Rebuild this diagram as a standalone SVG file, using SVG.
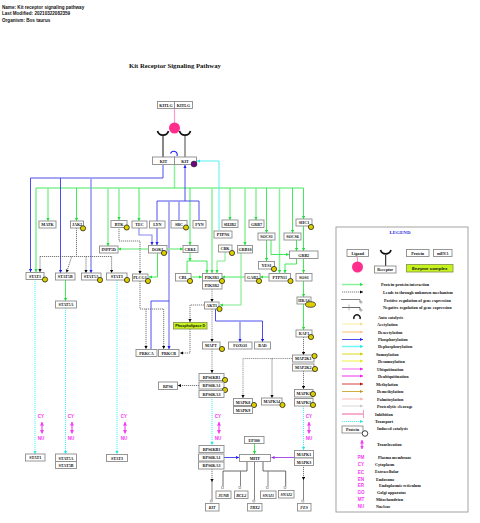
<svg xmlns="http://www.w3.org/2000/svg" width="480" height="523" viewBox="0 0 480 523">
<style>
text{font-family:"Liberation Serif","Times New Roman",serif;font-weight:bold;fill:#111}
.h{font-family:"Liberation Sans",Arial,sans-serif;font-size:4.6px}
.t{font-size:6.7px}
.l{font-size:4.1px;text-anchor:middle}
.i{font-size:4.1px;text-anchor:middle;font-style:italic}
.k{font-size:4.2px}
.m{font-family:"Liberation Sans",Arial,sans-serif;font-size:4.6px;fill:#f23cf2;text-anchor:middle}
rect{fill:#fff;stroke:#8c8c8c;stroke-width:.9}
.e{fill:#c6f21e;stroke:#8c9a50}
.p{fill:#dccf00;stroke:#111;stroke-width:.7}
polyline,line,path{fill:none}
.g{stroke:#2ee84a;stroke-width:.9;marker-end:url(#ag)}
.G{stroke:#8cf09a;stroke-width:1.5;marker-end:url(#ag)}
.gn{stroke:#2ee84a;stroke-width:.9}
.b{stroke:#3a3aee;stroke-width:.9;marker-end:url(#ab)}
.B{stroke:#a0a0f6;stroke-width:1.7;marker-end:url(#ab)}
.bn{stroke:#3a3aee;stroke-width:.9}
.Bn{stroke:#a0a0f6;stroke-width:1.7}
.c{stroke:#44eeee;stroke-width:.9;marker-end:url(#ac)}
.cd{stroke:#44eeee;stroke-width:.9;stroke-dasharray:1.2 .8;marker-end:url(#ac)}
.cdn{stroke:#44eeee;stroke-width:.9;stroke-dasharray:1.2 .8}
.d{stroke:#555;stroke-width:.8;stroke-dasharray:1.2 .8;marker-end:url(#ak)}
.dn{stroke:#555;stroke-width:.8;stroke-dasharray:1.2 .8}
.D{stroke:#999;stroke-width:1;stroke-dasharray:1.2 .7;marker-end:url(#ak)}
.Dn{stroke:#999;stroke-width:1;stroke-dasharray:1.2 .7}
.r{stroke:#777;stroke-width:.9}
.R{stroke:#444;stroke-width:.8}
.mg{stroke:#f23cf2;stroke-width:1.1;marker-start:url(#am);marker-end:url(#am)}
.o{stroke:#888;stroke-width:.6}
</style>
<defs>
<marker id="ag" markerUnits="userSpaceOnUse" markerWidth="4" markerHeight="4" refX="3" refY="1.6" orient="auto"><path d="M0 0L3 1.6L0 3.2Z" style="fill:#22dd3e"/></marker>
<marker id="ab" markerUnits="userSpaceOnUse" markerWidth="4" markerHeight="4" refX="3" refY="1.6" orient="auto"><path d="M0 0L3 1.6L0 3.2Z" style="fill:#2020ee"/></marker>
<marker id="ac" markerUnits="userSpaceOnUse" markerWidth="4" markerHeight="4" refX="3" refY="1.6" orient="auto"><path d="M0 0L3 1.6L0 3.2Z" style="fill:#22e8e8"/></marker>
<marker id="ak" markerUnits="userSpaceOnUse" markerWidth="4" markerHeight="4" refX="3" refY="1.6" orient="auto"><path d="M0 0L3 1.6L0 3.2Z" style="fill:#000"/></marker>
<marker id="am" markerUnits="userSpaceOnUse" markerWidth="5" markerHeight="5" refX="3.5" refY="2" orient="auto-start-reverse"><path d="M0 0L3.5 2L0 4Z" style="fill:#f23cf2"/></marker>
<marker id="ap" markerUnits="userSpaceOnUse" markerWidth="4" markerHeight="4" refX="3" refY="1.6" orient="auto"><path d="M0 0L3 1.6L0 3.2Z" style="fill:#8a2be2"/></marker>
<marker id="l1" markerUnits="userSpaceOnUse" markerWidth="4" markerHeight="4" refX="3" refY="1.6" orient="auto"><path d="M0 0L3 1.6L0 3.2Z" style="fill:#f5e080"/></marker>
<marker id="l2" markerUnits="userSpaceOnUse" markerWidth="4" markerHeight="4" refX="3" refY="1.6" orient="auto"><path d="M0 0L3 1.6L0 3.2Z" style="fill:#ffc890"/></marker>
<marker id="l3" markerUnits="userSpaceOnUse" markerWidth="4" markerHeight="4" refX="3" refY="1.6" orient="auto"><path d="M0 0L3 1.6L0 3.2Z" style="fill:#cccc10"/></marker>
<marker id="l4" markerUnits="userSpaceOnUse" markerWidth="4" markerHeight="4" refX="3" refY="1.6" orient="auto"><path d="M0 0L3 1.6L0 3.2Z" style="fill:#e8e820"/></marker>
<marker id="l5" markerUnits="userSpaceOnUse" markerWidth="4" markerHeight="4" refX="3" refY="1.6" orient="auto"><path d="M0 0L3 1.6L0 3.2Z" style="fill:#ee20ee"/></marker>
<marker id="l6" markerUnits="userSpaceOnUse" markerWidth="4" markerHeight="4" refX="3" refY="1.6" orient="auto"><path d="M0 0L3 1.6L0 3.2Z" style="fill:#c01010"/></marker>
<marker id="l7" markerUnits="userSpaceOnUse" markerWidth="4" markerHeight="4" refX="3" refY="1.6" orient="auto"><path d="M0 0L3 1.6L0 3.2Z" style="fill:#c09a10"/></marker>
<marker id="l8" markerUnits="userSpaceOnUse" markerWidth="4" markerHeight="4" refX="3" refY="1.6" orient="auto"><path d="M0 0L3 1.6L0 3.2Z" style="fill:#ffb0b0"/></marker>
<marker id="l9" markerUnits="userSpaceOnUse" markerWidth="4" markerHeight="4" refX="3" refY="1.6" orient="auto"><path d="M0 0L3 1.6L0 3.2Z" style="fill:#c8c8c8"/></marker>
</defs>

<text class="h" x="2" y="9">Name: Kit receptor signaling pathway</text>
<text class="h" x="2" y="15">Last Modified: 20210322082359</text>
<text class="h" x="2" y="22">Organism: Bos taurus</text>
<text class="t" x="129" y="68">Kit Receptor Signaling Pathway</text>

<g id="connectors">
<line x1="174.5" y1="108" x2="174.5" y2="124" style="stroke:#ff9ac8;stroke-width:1.2"/>
<line x1="163" y1="136" x2="163" y2="157" style="stroke:#111;stroke-width:1"/>
<line x1="185" y1="136" x2="185" y2="157" style="stroke:#666;stroke-width:1.2"/>
<path d="M170.5 153.5A3.3 3.3 0 1 1 177 156" style="stroke:#2020ee;stroke-width:1.1"/>
<polyline class="gn" style="stroke:#8cf09a;stroke-width:1.5" points="174.5,164.5 174.5,188"/>
<polyline class="gn" points="36,188 303.5,188"/>
<polyline class="g" points="36,188 36,272"/>
<polyline class="G" points="48,188 48,221"/>
<polyline class="g" points="76.5,188 76.5,221"/>
<polyline class="G" points="108,188 108,246"/>
<polyline class="G" points="119,188 119,220"/>
<polyline class="g" points="139,188 139,221"/>
<polyline class="g" points="190,188 190,245"/>
<polyline class="G" points="212,188 212,273"/>
<polyline class="g" points="230,188 230,220"/>
<polyline class="G" points="245,188 245,245"/>
<polyline class="G" points="256,188 256,220"/>
<polyline class="g" points="266.5,188 266.5,233"/>
<polyline class="G" points="279.5,188 279.5,273"/>
<polyline class="g" points="292.5,188 292.5,233"/>
<polyline class="g" points="303.5,188 303.5,219"/>
<polyline class="c" points="219,230 219,161 197,161"/>
<polyline class="bn" points="163,164.5 163,178 30.5,178"/>
<polyline class="b" points="30.5,178 30.5,272"/>
<polyline class="b" points="60.5,178 60.5,273"/>
<polyline class="B" points="91,178 91,273"/>
<polyline class="b" points="185,201 185,165"/>
<polyline class="bn" points="157,201 199,201"/>
<polyline class="b" points="157,201 157,245"/>
<polyline class="B" points="169,201 169,349"/>
<polyline class="Bn" points="179,201 179,220"/>
<polyline class="bn" points="199,201 199,220"/>
<polyline class="b" style="stroke:#8888f2;stroke-width:1.1" points="139,228 139,235 152,235 152,245"/>
<polyline class="bn" points="151,349 151,301 169,301"/>
<polyline class="G" points="148,249 118,249"/>
<polyline class="G" points="167,249 183,249"/>
<polyline class="g" points="157.5,253 157.5,277 149,277"/>
<polyline class="d" points="119,227 119,241 140,241 140,274"/>
<polyline class="dn" points="76.5,228 76.5,256.5"/>
<polyline class="dn" points="40,256.5 111.6,256.5"/>
<polyline class="d" points="40,256.5 40,272"/>
<polyline class="d" points="71.7,256.5 66.5,272.5"/>
<polyline class="d" points="86,256.5 86,273"/>
<polyline class="d" points="111.6,256.5 111.6,273"/>
<polyline class="g" points="65.5,280 65.5,301"/>
<polyline class="cd" points="35,279 35,454"/>
<polyline class="cd" points="65.5,308 65.5,454"/>
<polyline class="cd" points="117,280 117,454"/>
<polyline class="dn" points="140,281 140,309 163.7,309"/>
<polyline class="d" points="146,309 146,349"/>
<polyline class="d" points="163.7,309 163.7,349"/>
<polyline class="g" points="190,253 190,261"/>
<polyline class="gn" points="187,273 187,261 207,261"/>
<polyline class="g" points="207,261 207,273"/>
<polyline class="g" style="stroke:#7eec8e;stroke-width:1" points="225,252 225,261 217,261 217,273"/>
<polyline class="g" points="191,277 202,277"/>
<polyline class="g" points="245,277 222,277"/>
<polyline class="g" points="269,277 260,277"/>
<polyline class="g" style="stroke:#7eec8e;stroke-width:1.1" points="241,253 241,305 220,305"/>
<polyline class="g" points="266.5,240 266.5,261"/>
<polyline class="g" points="271,240 271,254.5 289,254.5"/>
<polyline class="g" points="296.5,240 296.5,251"/>
<polyline class="g" points="303.5,226 303.5,251"/>
<polyline class="g" points="296.5,258 296.5,264 285,264 285,273"/>
<polyline class="g" points="303.5,258 303.5,273"/>
<polyline class="g" points="303.5,281 303.5,297"/>
<polyline class="g" points="303.5,304 303.5,330"/>
<polyline class="D" points="212,289 212,302"/>
<polyline class="d" points="204,305 190,305 190,322"/>
<polyline class="d" points="190,329 190,353 180,353"/>
<polyline class="bn" points="215.5,309 215.5,321 262.5,321"/>
<polyline class="B" points="240,321 240,342"/>
<polyline class="b" points="262.5,321 262.5,342"/>
<polyline class="D" points="212,309 212,342"/>
<polyline class="D" points="212,349 212,373"/>
<polyline class="d" points="199,385.5 178,385.5"/>
<polyline class="d" points="303.5,337 303.5,355"/>
<polyline class="d" points="303.5,371 303.5,389"/>
<polyline class="Dn" points="292,358.5 243,358.5"/>
<polyline class="D" points="243,358.5 243,398"/>
<polyline class="d" points="272,358.5 272,398"/>
<polyline class="cd" style="stroke-width:1" points="212,397 212,445"/>
<polyline class="cd" points="303.5,406 303.5,450"/>
<polyline class="mg" points="42,422 42,433.5"/>
<polyline class="mg" points="72,422 72,433.5"/>
<polyline class="mg" points="125,422 125,433.5"/>
<polyline class="mg" points="219,422 219,433.5"/>
<polyline class="mg" points="309,422 309,433.5"/>
<polyline class="g" points="254.5,443 254.5,454"/>
<polyline class="b" points="224,457.5 239,457.5"/>
<polyline style="stroke:#a03ce8;stroke-width:.9;marker-end:url(#ap)" points="294,457.5 271.5,457.5"/>
<polyline class="d" points="212,469 212,482"/>
<polyline class="r" points="212,482 212,500"/>
<polyline class="d" points="303.5,465 303.5,480"/>
<polyline class="r" points="303.5,480 303.5,500"/>
<polyline class="R" points="247,461 247,471 223,471 223,486"/>
<polyline class="r" points="240.5,471 240.5,486"/>
<polyline class="r" points="254.5,461 254.5,500"/>
<polyline class="R" points="263,461 263,471 285.7,471 285.7,486"/>
<polyline class="r" points="268,471 268,486"/>
<path class="o" d="M221.5 488.5h2v-2h-2zM238.8 488.5h2v-2h-2zM266.3 488.5h2v-2h-2zM284 488.5h2v-2h-2zM210.3 502h2v-2h-2zM252.8 502h2v-2h-2zM301.8 502h2v-2h-2z"/>
</g>

<g id="KITLG"><rect x="157.5" y="101.5" width="17" height="7"/><text class="l" x="166" y="106.5">KITLG</text><rect x="174.5" y="101.5" width="18" height="7"/><text class="l" x="183.5" y="106.5">KITLG</text></g>
<g id="ligand"><circle cx="174.5" cy="128" r="5.5" style="fill:#ff2d8c"/></g>
<g id="receptors"><path d="M157.5 131A5.7 5.7 0 0 0 168.5 131" style="stroke:#111;stroke-width:1.7"/><path d="M179.5 131A5.7 5.7 0 0 0 190.5 131" style="stroke:#111;stroke-width:1.7"/></g>
<g id="KIT"><rect x="152.5" y="157" width="22" height="7.5"/><text class="l" x="163.5" y="162.5">KIT</text><rect x="174.5" y="157" width="22" height="7.5"/><text class="l" x="185" y="162.5">KIT</text><circle cx="194" cy="164" r="3" style="fill:#6a0a78;stroke:#222;stroke-width:.5"/></g>

<g id="MATK"><rect x="39" y="221" width="17" height="7"/><text class="l" x="47.5" y="226">MATK</text></g>
<g id="JAK2"><rect x="70.5" y="221" width="13" height="7"/><text class="l" x="77" y="226">JAK2</text><circle class="p" cx="83" cy="228.3" r="2.6"/></g>
<g id="BTK"><rect x="111" y="220.5" width="16" height="7"/><text class="l" x="119" y="225.5">BTK</text><circle class="p" cx="126.7" cy="227.5" r="2.6"/></g>
<g id="TEC"><rect x="132" y="221" width="15" height="7"/><text class="l" x="139.5" y="226">TEC</text></g>
<g id="LYN"><rect x="149.5" y="221" width="15.5" height="7"/><text class="l" x="157.3" y="226">LYN</text></g>
<g id="SRC"><rect x="171" y="220.5" width="16" height="7.5"/><text class="l" x="179" y="226">SRC</text><circle class="p" cx="186" cy="227.5" r="2.6"/></g>
<g id="FYN"><rect x="193" y="220.5" width="13" height="7.5"/><text class="l" x="199.5" y="226">FYN</text></g>
<g id="SH2B2"><rect x="222" y="220" width="16" height="7.5"/><text class="l" x="230" y="225.5">SH2B2</text></g>
<g id="GRB7"><rect x="249" y="220" width="15" height="7.5"/><text class="l" x="256.5" y="225.5">GRB7</text></g>
<g id="SHC1"><rect x="296" y="219" width="16" height="7"/><text class="l" x="304" y="224">SHC1</text><circle class="p" cx="311" cy="227" r="2.6"/></g>
<g id="PTPN6"><rect x="214" y="231" width="18" height="7"/><text class="l" x="223" y="236">PTPN6</text></g>
<g id="SOCS1"><rect x="258" y="233" width="17" height="7"/><text class="l" x="266.5" y="238">SOCS1</text></g>
<g id="SOCS6"><rect x="284" y="233" width="17" height="7"/><text class="l" x="292.5" y="238">SOCS6</text></g>
<g id="INPP5D"><rect x="99.5" y="246" width="18.5" height="7"/><text class="l" x="108.7" y="251">INPP5D</text></g>
<g id="DOK1"><rect x="148.5" y="245.5" width="18.5" height="7.5"/><text class="l" x="157.7" y="251">DOK1</text><circle class="p" cx="164" cy="253" r="2.6"/></g>
<g id="CRKL"><rect x="183" y="245.5" width="15" height="7"/><text class="l" x="190.5" y="250.5">CRKL</text></g>
<g id="CRK"><rect x="218.5" y="245" width="13.5" height="7"/><text class="l" x="225" y="250">CRK</text><circle class="p" cx="232" cy="253" r="2.6"/></g>
<g id="GRB10"><rect x="237.5" y="245.5" width="15" height="7.5"/><text class="l" x="245" y="251">GRB10</text></g>
<g id="GRB2"><rect x="289.5" y="251" width="28.5" height="7.5"/><text class="l" x="303.7" y="256.5">GRB2</text></g>
<g id="YES1"><rect x="258.5" y="261.5" width="16" height="7.5"/><text class="l" x="266.5" y="267">YES1</text><circle class="p" cx="274" cy="269" r="2.6"/></g>
<g id="STAT1"><rect x="26" y="272.5" width="18" height="7"/><text class="l" x="35" y="277.5">STAT1</text><circle class="p" cx="45" cy="279.5" r="2.6"/></g>
<g id="STAT5B"><rect x="55.5" y="273" width="19.5" height="7"/><text class="l" x="65.2" y="278">STAT5B</text></g>
<g id="STAT5A"><rect x="81.5" y="273" width="19.5" height="7"/><text class="l" x="91.2" y="278">STAT5A</text><circle class="p" cx="100" cy="280" r="2.6"/></g>
<g id="STAT3"><rect x="106.5" y="273" width="20.5" height="7"/><text class="l" x="116.7" y="278">STAT3</text><circle class="p" cx="127" cy="280" r="2.6"/></g>
<g id="PLCG1"><rect x="132.5" y="274" width="15.5" height="7"/><text class="l" x="140" y="279">PLCG1</text><circle class="p" cx="148" cy="281" r="2.6"/></g>
<g id="CBL"><rect x="175.5" y="273.5" width="15.5" height="7.5"/><text class="l" x="183" y="279">CBL</text><circle class="p" cx="190" cy="281" r="2.6"/></g>
<g id="PIK3R1"><rect x="202.5" y="273.5" width="19.5" height="7.5"/><text class="l" x="212" y="279">PIK3R1</text></g>
<g id="PIK3R2"><rect x="202.5" y="281" width="19.5" height="8"/><text class="l" x="212" y="287">PIK3R2</text><circle class="p" cx="222" cy="281" r="2.6"/></g>
<g id="GAB2"><rect x="245" y="273.5" width="15" height="7.5"/><text class="l" x="252.5" y="279">GAB2</text><circle class="p" cx="259" cy="281" r="2.6"/></g>
<g id="PTPN11"><rect x="269" y="273.5" width="21.5" height="7.5"/><text class="l" x="279.7" y="279">PTPN11</text><circle class="p" cx="290.5" cy="281" r="2.6"/></g>
<g id="SOS1"><rect x="296" y="273.5" width="16" height="7.5"/><text class="l" x="304" y="279">SOS1</text></g>
<g id="HRAS"><rect x="297" y="297" width="14" height="7"/><text class="l" x="304" y="302">HRAS</text><ellipse class="p" cx="310.5" cy="304.5" rx="5" ry="2.8"/></g>
<g id="STAT5A-2"><rect x="55.5" y="301" width="21" height="7"/><text class="l" x="66" y="306">STAT5A</text></g>
<g id="AKT1"><rect x="204.5" y="302" width="14.5" height="7"/><text class="l" x="211.7" y="307">AKT1</text><circle class="p" cx="219.5" cy="309" r="2.6"/></g>
<g id="Phospholipase-D"><rect class="e" x="173.5" y="322.5" width="33.5" height="6.5"/><text class="l" style="font-family:'Liberation Sans',Arial,sans-serif;font-size:3.7px" x="190.2" y="327">Phospholipase D</text></g>
<g id="RAF1"><rect x="296" y="330" width="16" height="7"/><text class="l" x="304" y="335">RAF1</text><circle class="p" cx="311" cy="337" r="2.6"/></g>
<g id="MAPT"><rect x="202.5" y="342" width="17.5" height="7"/><text class="l" x="211" y="347">MAPT</text><circle class="p" cx="222" cy="349" r="2.6"/></g>
<g id="FOXO3"><rect x="228.5" y="342" width="23.5" height="7"/><text class="l" x="240.2" y="347">FOXO3</text></g>
<g id="BAD"><rect x="254.5" y="342" width="16" height="7"/><text class="l" x="262.5" y="347">BAD</text></g>
<g id="PRKCA"><rect x="136" y="349.5" width="21" height="7"/><text class="l" x="146.5" y="354.5">PRKCA</text></g>
<g id="PRKCB"><rect x="158.5" y="349.5" width="20.5" height="7"/><text class="l" x="168.7" y="354.5">PRKCB</text></g>
<g id="MAP2K1"><rect x="292.5" y="355" width="21.5" height="7"/><text class="l" x="303.2" y="360">MAP2K1</text><circle class="p" cx="314.5" cy="356" r="2.6"/></g>
<g id="MAP2K2"><rect x="292.5" y="364" width="21.5" height="7"/><text class="l" x="303.2" y="369">MAP2K2</text><circle class="p" cx="315" cy="369" r="2.6"/></g>
<g id="RPS6KB1"><rect x="199" y="373.5" width="25" height="7"/><text class="l" x="211.5" y="378.5">RPS6KB1</text><circle class="p" cx="225" cy="380" r="2.6"/></g>
<g id="RPS6KA1"><rect x="199" y="382" width="25" height="7"/><text class="l" x="211.5" y="387">RPS6KA1</text><circle class="p" cx="225" cy="390" r="2.6"/></g>
<g id="RPS6KA3"><rect x="199" y="390.5" width="25" height="7"/><text class="l" x="211.5" y="395.5">RPS6KA3</text></g>
<g id="RPS6"><rect x="158.5" y="382" width="19" height="7.5"/><text class="l" x="168" y="387.5">RPS6</text></g>
<g id="MAPK1"><rect x="294.5" y="389.5" width="18.5" height="7.5"/><text class="l" x="303.7" y="395">MAPK1</text><circle class="p" cx="313" cy="394" r="2.6"/></g>
<g id="MAPK3"><rect x="294.5" y="398.5" width="18.5" height="7.5"/><text class="l" x="303.7" y="404">MAPK3</text><circle class="p" cx="313" cy="405" r="2.6"/></g>
<g id="MAPK8"><rect x="233.5" y="398.5" width="19" height="7"/><text class="l" x="243" y="403.5">MAPK8</text><circle class="p" cx="254" cy="405" r="2.6"/></g>
<g id="MAPK9"><rect x="233.5" y="406.5" width="19" height="7"/><text class="l" x="243" y="411.5">MAPK9</text></g>
<g id="MAPK14"><rect x="261.5" y="398" width="20.5" height="7"/><text class="l" x="271.7" y="403">MAPK14</text><circle class="p" cx="282.5" cy="405" r="2.6"/></g>

<g id="nuclear-labels">
<text class="m" x="41" y="418">CY</text><text class="m" x="41" y="440">NU</text>
<text class="m" x="71" y="418">CY</text><text class="m" x="71" y="440">NU</text>
<text class="m" x="124" y="418">CY</text><text class="m" x="124" y="440">NU</text>
<text class="m" x="218" y="418">CY</text><text class="m" x="218" y="440">NU</text>
<text class="m" x="309" y="418">CY</text><text class="m" x="309" y="440">NU</text>
</g>
<g id="STAT1-n"><rect x="25.5" y="454" width="19.5" height="7"/><text class="l" x="35.2" y="459">STAT1</text></g>
<g id="STAT5A-n"><rect x="55.5" y="454" width="21" height="7.5"/><text class="l" x="66" y="459.5">STAT5A</text></g>
<g id="STAT5B-n"><rect x="55.5" y="461.5" width="21" height="7"/><text class="l" x="66" y="466.5">STAT5B</text></g>
<g id="STAT3-n"><rect x="106.5" y="454.5" width="21" height="7"/><text class="l" x="117" y="459.5">STAT3</text></g>
<g id="RPS6KB1-n"><rect x="199" y="445.5" width="25" height="7"/><text class="l" x="211.5" y="450.5">RPS6KB1</text></g>
<g id="RPS6KA1-n"><rect x="198.5" y="454" width="25.5" height="7"/><text class="l" x="211.5" y="459">RPS6KA1</text></g>
<g id="RPS6KA3-n"><rect x="198.5" y="462" width="25.5" height="7"/><text class="l" x="211.5" y="467">RPS6KA3</text></g>
<g id="EP300"><rect x="244.5" y="436.5" width="19.5" height="7"/><text class="l" x="254.2" y="441.5">EP300</text></g>
<g id="MITF"><rect x="239.5" y="454.5" width="31" height="7"/><text class="l" x="255" y="459.5">MITF</text></g>
<g id="MAPK1-n"><rect x="294.5" y="450.5" width="19" height="7.5"/><text class="l" x="304" y="456">MAPK1</text></g>
<g id="MAPK3-n"><rect x="294.5" y="458" width="19" height="7.5"/><text class="l" x="304" y="463.5">MAPK3</text></g>
<g id="JUNB"><rect x="216" y="491" width="15" height="7.5"/><text class="i" x="223.5" y="496.5">JUNB</text></g>
<g id="BCL2"><rect x="234.5" y="491" width="13.5" height="7.5"/><text class="i" x="241.2" y="496.5">BCL2</text></g>
<g id="SNAI1"><rect x="260.5" y="491" width="15.5" height="7.5"/><text class="i" x="268.2" y="496.5">SNAI1</text></g>
<g id="SNAI2"><rect x="278.5" y="490.5" width="15.5" height="7.5"/><text class="i" x="286.2" y="496">SNAI2</text></g>
<g id="KIT-gene"><rect x="205.5" y="503.5" width="13.5" height="7.5"/><text class="i" x="212.2" y="509">KIT</text></g>
<g id="TBX2"><rect x="247.5" y="503.5" width="14.5" height="7.5"/><text class="i" x="254.7" y="509">TBX2</text></g>
<g id="FES"><rect x="297.5" y="503.5" width="13.5" height="7.5"/><text class="i" x="304.2" y="509">FES</text></g>

<g id="legend">
<rect x="336" y="227" width="132" height="285" style="stroke:#999"/>
<text x="400" y="233.5" style="font-size:5px;fill:#2a2ae0;text-anchor:middle">LEGEND</text>
<rect x="347" y="249.5" width="21.5" height="7"/><text class="l" x="357.7" y="254.7">Ligand</text>
<line x1="357.5" y1="256.5" x2="357.5" y2="262" style="stroke:#ff9ac8;stroke-width:1"/>
<circle cx="357.5" cy="267" r="5.5" style="fill:#ff2d8c"/>
<path d="M380.5 250A5.5 5.5 0 0 0 391 250" style="stroke:#111;stroke-width:1.7"/>
<line x1="385.7" y1="255" x2="385.7" y2="266" style="stroke:#111;stroke-width:1"/>
<rect x="374.5" y="266" width="21.5" height="7"/><text class="l" x="385.2" y="271.2">Receptor</text>
<rect x="406.5" y="249.5" width="22.5" height="7"/><text class="l" x="417.7" y="254.7">Protein</text>
<rect x="433.5" y="249.5" width="18.5" height="7"/><text class="i" x="442.7" y="254.7">mRNA</text>
<rect class="e" x="406.5" y="264.5" width="46.5" height="7.5"/><text class="l" style="font-family:'Liberation Sans',Arial,sans-serif;font-size:4.4px" x="429.7" y="270">Enzyme complex</text>

<g id="legend-lines">
<line class="G" x1="342" y1="284.5" x2="363" y2="284.5"/>
<line class="d" x1="342" y1="292" x2="363" y2="292"/>
<polyline class="r" points="341,299.5 360,299.5 360,302"/>
<polyline class="R" points="342,307.5 360,307.5 360,310"/>
<line class="o" x1="349" y1="304.5" x2="349" y2="310.5"/>
<path class="o" d="M360 303h2v-1.5h-2zM360 311h2v-1.5h-2z"/>
<path d="M354 319A3.2 3.2 0 1 1 360 319" style="stroke:#111;stroke-width:1.5"/>
<line x1="342" y1="324" x2="363" y2="324" style="stroke:#fbeea0;stroke-width:1;marker-end:url(#l1)"/>
<line x1="342" y1="332" x2="363" y2="332" style="stroke:#ffd9a8;stroke-width:1.6;marker-end:url(#l2)"/>
<line class="b" x1="342" y1="339.5" x2="363" y2="339.5"/>
<line x1="342" y1="346.5" x2="363" y2="346.5" style="stroke:#70f5f5;stroke-width:1.5;marker-end:url(#ac)"/>
<line x1="342" y1="354" x2="363" y2="354" style="stroke:#dcdc20;stroke-width:1;marker-end:url(#l3)"/>
<line x1="342" y1="361" x2="363" y2="361" style="stroke:#f0f040;stroke-width:1;marker-end:url(#l4)"/>
<line x1="342" y1="369" x2="363" y2="369" style="stroke:#f260f2;stroke-width:1;marker-end:url(#l5)"/>
<line x1="342" y1="376" x2="363" y2="376" style="stroke:#ee30ee;stroke-width:1;marker-end:url(#l5)"/>
<line x1="342" y1="384" x2="363" y2="384" style="stroke:#d86060;stroke-width:1.2;marker-end:url(#l6)"/>
<line x1="342" y1="391.5" x2="363" y2="391.5" style="stroke:#d0b040;stroke-width:1;marker-end:url(#l7)"/>
<line x1="342" y1="399" x2="363" y2="399" style="stroke:#ffd0d0;stroke-width:1.5;marker-end:url(#l8)"/>
<line x1="342" y1="406" x2="363" y2="406" style="stroke:#d8d8d8;stroke-width:1;marker-end:url(#l9)"/>
<line x1="342" y1="414" x2="363" y2="414" style="stroke:#f060a0;stroke-width:1"/>
<line x1="363.5" y1="410" x2="363.5" y2="418" style="stroke:#f080b0;stroke-width:.8"/>
<line class="cd" x1="342" y1="421.5" x2="363" y2="421.5"/>
<polyline class="mg" points="362,440 362,449"/>
</g>
<rect x="342" y="426" width="21" height="7"/><text class="l" x="352.5" y="431">Protein</text>
<circle cx="365" cy="433.5" r="2.8" style="fill:#fff;stroke:#111;stroke-width:.8"/>

<text class="k" x="381" y="286">Protein-protein interaction</text>
<text class="k" x="383" y="293.5">Leads to through unknown mechanism</text>
<text class="k" x="384" y="301.5">Positive regulation of gene expression</text>
<text class="k" x="383" y="309">Negative regulation of gene expression</text>
<text class="k" x="378" y="318.5">Auto catalysis</text>
<text class="k" x="377" y="325.5">Acetylation</text>
<text class="k" x="378" y="333.5">Deacetylation</text>
<text class="k" x="378" y="341">Phosphorylation</text>
<text class="k" x="378" y="348">Dephosphorylation</text>
<text class="k" x="376" y="355.5">Sumoylation</text>
<text class="k" x="378" y="363">Desumoylation</text>
<text class="k" x="377" y="370.5">Ubiquitination</text>
<text class="k" x="378" y="378">Deubiquitination</text>
<text class="k" x="376" y="385.5">Methylation</text>
<text class="k" x="377" y="393">Demethylation</text>
<text class="k" x="377" y="400.5">Palmitoylation</text>
<text class="k" x="377" y="408">Proteolytic cleavage</text>
<text class="k" x="375" y="415.5">Inhibition</text>
<text class="k" x="375" y="423">Transport</text>
<text class="k" x="377" y="430">Induced catalysis</text>
<text class="k" x="377" y="446">Translocation</text>
<text class="m" x="361" y="459">PM</text><text class="k" x="378" y="459">Plasma membrane</text>
<text class="m" x="361" y="466">CY</text><text class="k" x="375" y="466">Cytoplasm</text>
<text class="m" x="361" y="473.5">EC</text><text class="k" x="375" y="473">Extracellular</text>
<text class="m" x="361" y="481">EN</text><text class="k" x="376" y="481">Endosome</text>
<text class="m" x="361" y="487">ER</text><text class="k" x="379" y="487">Endoplasmic reticulum</text>
<text class="m" x="361" y="494">GO</text><text class="k" x="377" y="494">Golgi apparatus</text>
<text class="m" x="361" y="500.5">MT</text><text class="k" x="376" y="500.5">Mitochondrion</text>
<text class="m" x="361" y="508">NU</text><text class="k" x="376" y="508">Nucleus</text>
</g>
</svg>
